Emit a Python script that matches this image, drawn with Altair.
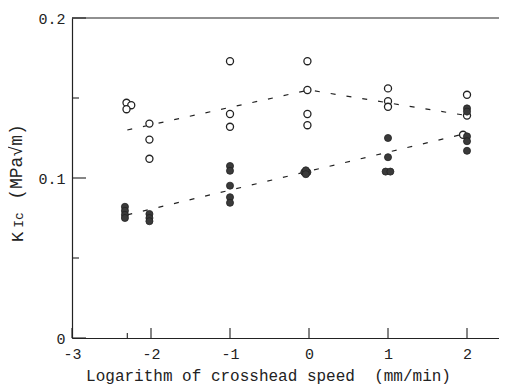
import altair as alt
import pandas as pd

# Open circles (upper series)
open_x = [-2.31, -2.25, -2.31, -2.02, -2.02, -2.02, -1.0, -1.0, -1.0,
          -0.02, -0.02, -0.02, -0.02, 1.0, 1.0, 1.0, 2.0, 2.0, 1.95]
open_y = [0.147, 0.1455, 0.143, 0.134, 0.124, 0.112, 0.173, 0.140, 0.132,
          0.173, 0.155, 0.140, 0.133, 0.156, 0.148, 0.1445, 0.152, 0.139, 0.127]

# Filled circles (lower series)
fill_x = [-2.33, -2.33, -2.33, -2.33, -2.02, -2.02, -2.02,
          -1.0, -1.0, -1.0, -1.0, -1.0,
          -0.06, -0.02, -0.04, -0.04,
          1.0, 1.0, 0.97, 1.03,
          2.0, 2.0, 2.0, 2.0, 2.0]
fill_y = [0.082, 0.0795, 0.077, 0.075, 0.0775, 0.075, 0.073,
          0.1075, 0.1045, 0.0952, 0.088, 0.0845,
          0.1036, 0.1036, 0.1048, 0.1024,
          0.125, 0.113, 0.104, 0.104,
          0.1435, 0.1415, 0.126, 0.123, 0.117]

# Dashed trend lines
upper_x = [-2.3, 0.0, 2.0]
upper_y = [0.130, 0.155, 0.139]
lower_x = [-2.3, 2.0]
lower_y = [0.077, 0.128]

x_ticks = [-3, -2, -1, 0, 1, 2]
x_minor = [-2.3]
y_ticks = [0.0, 0.1, 0.2]
y_minor = [0.05, 0.15]

FONT = "Liberation Mono"
W, H = 427, 320

xs = alt.Scale(domain=[-3, 2.405], nice=False, zero=False)
ys = alt.Scale(domain=[0, 0.2], nice=False, zero=False)

x_axis = alt.Axis(
    values=x_ticks, ticks=False, grid=False, domainColor="#222",
    domainWidth=1.2, labelFont=FONT, labelFontSize=15, labelColor="#222",
    labelPadding=8, labelFlush=False, labelExpr="replace(datum.label, '−', '-')",
    title="Logarithm of crosshead speed\u00a0\u00a0(mm/min)", titleFont=FONT,
    titleFontSize=16, titleFontWeight="normal", titleColor="#222",
    titleX=196, titleY=42, titleAlign="center", titleBaseline="alphabetic")
y_axis = alt.Axis(
    values=y_ticks, ticks=False, grid=False, domainColor="#222",
    domainWidth=1.2, labelFont=FONT, labelFontSize=15, labelColor="#222",
    labelPadding=7, labelFlush=False,
    labelExpr="datum.value == 0 ? '0' : format(datum.value, '.1f')",
    title=None)

X = lambda f: alt.X(f, scale=xs, axis=x_axis)
Y = lambda f: alt.Y(f, scale=ys, axis=y_axis)

open_df = pd.DataFrame({"x": open_x, "y": open_y})
fill_df = pd.DataFrame({"x": fill_x, "y": fill_y})
line_df = pd.concat([
    pd.DataFrame({"x": upper_x, "y": upper_y, "s": "upper"}),
    pd.DataFrame({"x": lower_x, "y": lower_y, "s": "lower"}),
])

open_layer = alt.Chart(open_df).mark_point(
    shape="circle", filled=True, fill="white", stroke="#222", strokeWidth=1.3,
    size=50, opacity=1
).encode(x=X("x:Q"), y=Y("y:Q"))

fill_layer = alt.Chart(fill_df).mark_circle(
    color="#3a3a3a", stroke="#222", strokeWidth=0.8, size=50, opacity=1
).encode(x=X("x:Q"), y=Y("y:Q"))

line_layer = alt.Chart(line_df).mark_line(
    color="#222", strokeWidth=1.2, strokeDash=[5, 11]
).encode(x=X("x:Q"), y=Y("y:Q"), detail="s:N")

xt_layer = alt.Chart(pd.DataFrame({"x": x_ticks})).mark_rule(color="#222", strokeWidth=1.1).encode(
    x=X("x:Q"), y=alt.value(H), y2=alt.value(H - 10),
)
xm_layer = alt.Chart(pd.DataFrame({"x": x_minor})).mark_rule(color="#222", strokeWidth=1.1).encode(
    x=X("x:Q"), y=alt.value(H), y2=alt.value(H - 5),
)
yt_layer = alt.Chart(pd.DataFrame({"y": y_ticks})).mark_rule(color="#222", strokeWidth=1.1).encode(
    y=Y("y:Q"), x=alt.value(0), x2=alt.value(14),
)
ym_layer = alt.Chart(pd.DataFrame({"y": y_minor})).mark_rule(color="#222", strokeWidth=1.1).encode(
    y=Y("y:Q"), x=alt.value(0), x2=alt.value(7),
)
top_layer = alt.Chart(pd.DataFrame({"y": [0.2]})).mark_rule(color="#222", strokeWidth=1.2).encode(
    y=Y("y:Q"), x=alt.value(0), x2=alt.value(W),
)

def ytext(txt, xpix, ypix, size):
    return alt.Chart(pd.DataFrame({"t": [txt]})).mark_text(
        text=txt, angle=270, align="center", baseline="alphabetic",
        font=FONT, fontSize=size, color="#222"
    ).encode(x=alt.value(xpix), y=alt.value(ypix))

t1 = ytext("K", -49, 219, 17)
t2 = ytext("Ic", -49, 202, 13)
t3 = ytext("(MPa√m)", -50, 144, 18)

chart = alt.layer(
    line_layer, open_layer, fill_layer, xt_layer, xm_layer, yt_layer,
    ym_layer, top_layer, t1, t2, t3
).properties(
    width=W, height=H,
    autosize=alt.AutoSizeParams(type="none"),
    padding={"left": 64, "top": 10, "right": 0, "bottom": 46},
    background="white",
).configure_view(stroke=None)

chart.save("out.html", embed_options={"renderer": "svg", "actions": False})
